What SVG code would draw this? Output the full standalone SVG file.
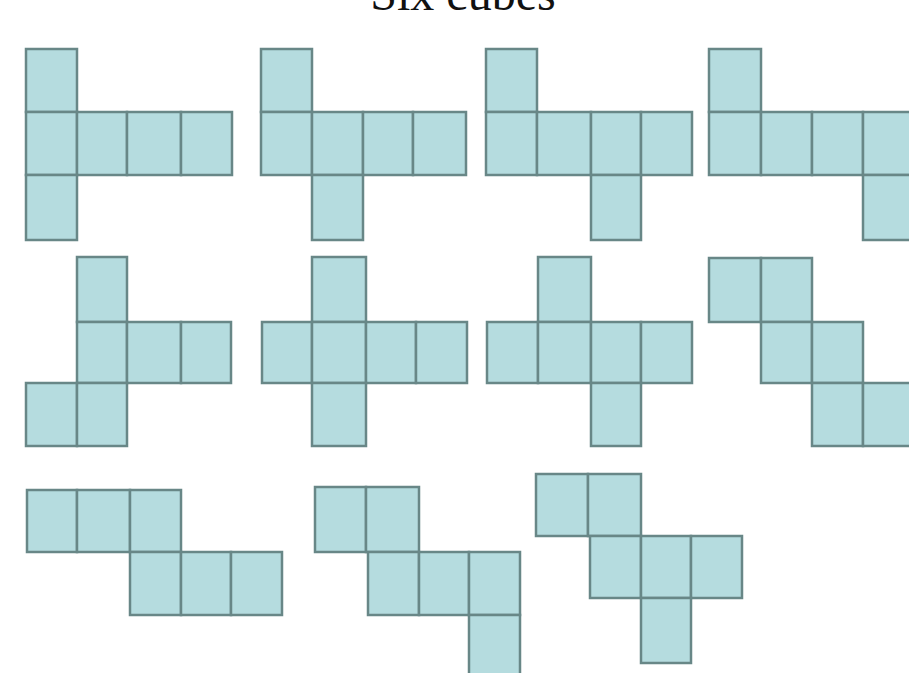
<svg xmlns="http://www.w3.org/2000/svg" width="909" height="673" viewBox="0 0 909 673">
<style>
.c{fill:#b5dcdf;stroke:#688787;stroke-width:2.5}
.t{font-family:"Liberation Serif","DejaVu Serif",serif;font-size:48px;fill:#111}
</style>
<rect width="909" height="673" fill="#fff"/>
<text class="t" x="463" y="10" text-anchor="middle">Six cubes</text>
<g id="net1">
<rect class="c" x="26" y="49" width="51" height="63"/>
<rect class="c" x="26" y="112" width="51" height="63"/>
<rect class="c" x="77" y="112" width="50" height="63"/>
<rect class="c" x="127" y="112" width="54" height="63"/>
<rect class="c" x="181" y="112" width="51" height="63"/>
<rect class="c" x="26" y="175" width="51" height="65"/>
</g>
<g id="net2">
<rect class="c" x="261" y="49" width="51" height="63"/>
<rect class="c" x="261" y="112" width="51" height="63"/>
<rect class="c" x="312" y="112" width="51" height="63"/>
<rect class="c" x="363" y="112" width="50" height="63"/>
<rect class="c" x="413" y="112" width="53" height="63"/>
<rect class="c" x="312" y="175" width="51" height="65"/>
</g>
<g id="net3">
<rect class="c" x="486" y="49" width="51" height="63"/>
<rect class="c" x="486" y="112" width="51" height="63"/>
<rect class="c" x="537" y="112" width="54" height="63"/>
<rect class="c" x="591" y="112" width="50" height="63"/>
<rect class="c" x="641" y="112" width="51" height="63"/>
<rect class="c" x="591" y="175" width="50" height="65"/>
</g>
<g id="net4">
<rect class="c" x="709" y="49" width="52" height="63"/>
<rect class="c" x="709" y="112" width="52" height="63"/>
<rect class="c" x="761" y="112" width="51" height="63"/>
<rect class="c" x="812" y="112" width="51" height="63"/>
<rect class="c" x="863" y="112" width="51" height="63"/>
<rect class="c" x="863" y="175" width="51" height="65"/>
</g>
<g id="net5">
<rect class="c" x="77" y="257" width="50" height="65"/>
<rect class="c" x="77" y="322" width="50" height="61"/>
<rect class="c" x="127" y="322" width="54" height="61"/>
<rect class="c" x="181" y="322" width="50" height="61"/>
<rect class="c" x="26" y="383" width="51" height="63"/>
<rect class="c" x="77" y="383" width="50" height="63"/>
</g>
<g id="net6">
<rect class="c" x="312" y="257" width="54" height="65"/>
<rect class="c" x="262" y="322" width="50" height="61"/>
<rect class="c" x="312" y="322" width="54" height="61"/>
<rect class="c" x="366" y="322" width="50" height="61"/>
<rect class="c" x="416" y="322" width="51" height="61"/>
<rect class="c" x="312" y="383" width="54" height="63"/>
</g>
<g id="net7">
<rect class="c" x="538" y="257" width="53" height="65"/>
<rect class="c" x="487" y="322" width="51" height="61"/>
<rect class="c" x="538" y="322" width="53" height="61"/>
<rect class="c" x="591" y="322" width="50" height="61"/>
<rect class="c" x="641" y="322" width="51" height="61"/>
<rect class="c" x="591" y="383" width="50" height="63"/>
</g>
<g id="net8">
<rect class="c" x="709" y="258" width="52" height="64"/>
<rect class="c" x="761" y="258" width="51" height="64"/>
<rect class="c" x="761" y="322" width="51" height="61"/>
<rect class="c" x="812" y="322" width="51" height="61"/>
<rect class="c" x="812" y="383" width="51" height="63"/>
<rect class="c" x="863" y="383" width="51" height="63"/>
</g>
<g id="net9">
<rect class="c" x="27" y="490" width="50" height="62"/>
<rect class="c" x="77" y="490" width="53" height="62"/>
<rect class="c" x="130" y="490" width="51" height="62"/>
<rect class="c" x="130" y="552" width="51" height="63"/>
<rect class="c" x="181" y="552" width="50" height="63"/>
<rect class="c" x="231" y="552" width="51" height="63"/>
</g>
<g id="net10">
<rect class="c" x="315" y="487" width="51" height="65"/>
<rect class="c" x="366" y="487" width="53" height="65"/>
<rect class="c" x="368" y="552" width="51" height="63"/>
<rect class="c" x="419" y="552" width="50" height="63"/>
<rect class="c" x="469" y="552" width="51" height="63"/>
<rect class="c" x="469" y="615" width="51" height="65"/>
</g>
<g id="net11">
<rect class="c" x="536" y="474" width="52" height="62"/>
<rect class="c" x="588" y="474" width="53" height="62"/>
<rect class="c" x="590" y="536" width="51" height="62"/>
<rect class="c" x="641" y="536" width="50" height="62"/>
<rect class="c" x="691" y="536" width="51" height="62"/>
<rect class="c" x="641" y="598" width="50" height="65"/>
</g>
</svg>
